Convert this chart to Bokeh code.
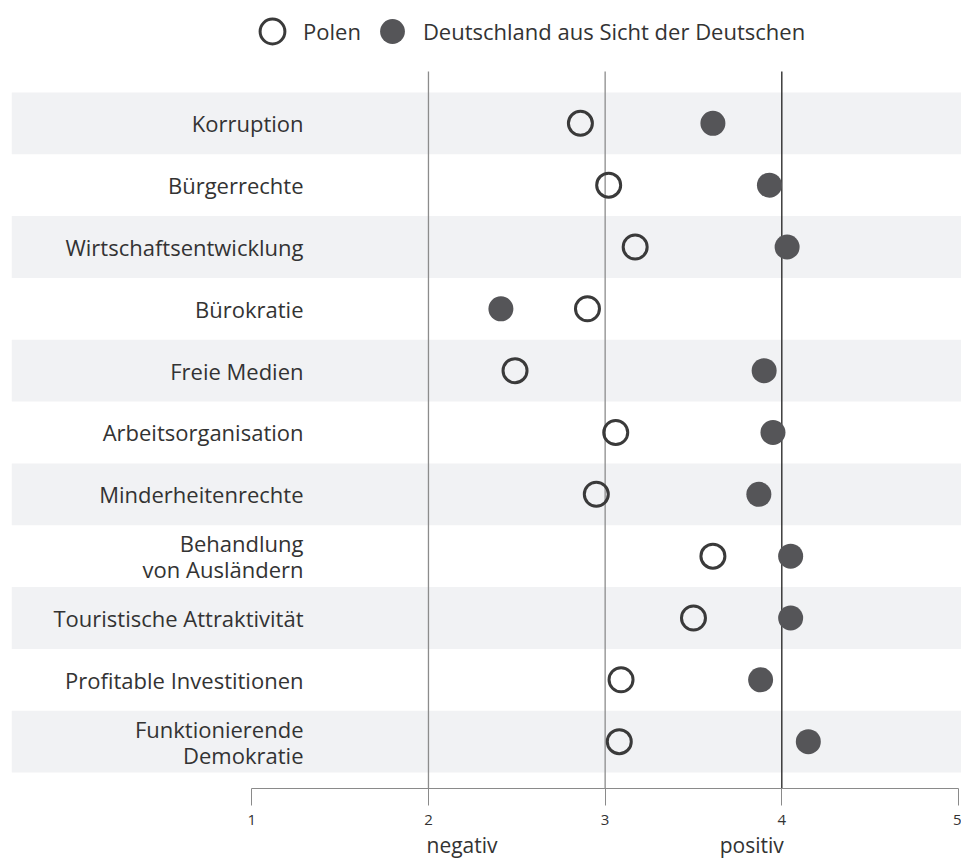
from bokeh.plotting import figure
from bokeh.models import Range1d, LinearAxis, FixedTicker, Legend, LegendItem
from bokeh.core.properties import value
from bokeh.embed import file_html
from bokeh.resources import INLINE

# ---- data ----
categories = ["Korruption", "Bürgerrechte", "Wirtschaftsentwicklung", "Bürokratie",
              "Freie Medien", "Arbeitsorganisation", "Minderheitenrechte",
              "Behandlung\nvon Ausländern", "Touristische Attraktivität",
              "Profitable Investitionen", "Funktionierende\nDemokratie"]
polen = [2.86, 3.02, 3.17, 2.90, 2.49, 3.06, 2.95, 3.61, 3.50, 3.09, 3.08]
deutschland = [3.61, 3.93, 4.03, 2.41, 3.90, 3.95, 3.87, 4.05, 4.05, 3.88, 4.15]
series_names = ["Polen", "Deutschland aus Sicht der Deutschen"]
scale_ticks = [1, 2, 3, 4, 5]
ref_lines = [2, 3, 4]
scale_words = ["negativ", "positiv"]
scale_word_at = [2.19, 3.83]

# ---- layout constants ----
FONT = "Open Sans"
TXT = "#333333"
W, H = 961, 861
LEFT = 11
X0, X1 = -0.360, 5.017
Y0, Y1 = -0.758, 11.986
PXU = (W - LEFT) / (X1 - X0)          # pixels per x unit
PYU = 61.9                            # pixels per row
n = len(categories)
ys = [n - 1 - i for i in range(n)]

p = figure(width=W, height=H, x_range=Range1d(X0, X1), y_range=Range1d(Y0, Y1),
           output_backend="svg", toolbar_location=None,
           x_axis_type=None, y_axis_type=None,
           min_border_left=LEFT, min_border_right=0, min_border_top=0, min_border_bottom=72)
p.outline_line_color = None
p.background_fill_color = "white"
p.border_fill_color = "white"

# alternating bands
band_y = [ys[i] for i in range(0, n, 2)]
p.hbar(y=band_y, left=X0, right=X1, height=1.0, fill_color="#f1f2f4", line_color=None)

# reference lines
top_y = n - 0.5 + 21 / PYU
line_colors = ["#8c8c8c", "#8c8c8c", "#1e1e1e"]
p.segment(x0=ref_lines, x1=ref_lines, y0=[Y0] * 3, y1=[top_y] * 3,
          line_color=line_colors, line_width=1.3)

# points
r_fill = p.scatter(x=deutschland, y=ys, size=25, fill_color="#555558", line_color=None)
r_open = p.scatter(x=polen, y=ys, size=24, fill_color=None, line_color="#3a3a3a", line_width=3)

# category labels
label_x = X0 + (303 - LEFT) / PXU
p.text(x=[label_x] * n, y=ys, text=categories, text_align="right", text_baseline="middle",
       text_font=value(FONT), text_font_size="22px", text_color=TXT, text_line_height=0.87)

# axes
ax = LinearAxis(ticker=FixedTicker(ticks=scale_ticks), bounds=(1, 5))
ax.major_tick_out = 17
ax.major_tick_in = 0
ax.minor_tick_out = 0
ax.minor_tick_in = 0
ax.axis_line_color = "#8a8a8a"
ax.major_tick_line_color = "#8a8a8a"
ax.major_label_text_font = FONT
ax.major_label_text_font_size = "15px"
ax.major_label_text_color = TXT
ax.major_label_standoff = 9
p.add_layout(ax, "below")

ax2 = LinearAxis(ticker=FixedTicker(ticks=scale_word_at),
                 major_label_overrides={v: w for v, w in zip(scale_word_at, scale_words)})
ax2.axis_line_color = None
ax2.major_tick_line_color = None
ax2.major_tick_out = 0
ax2.major_tick_in = 0
ax2.minor_tick_out = 0
ax2.minor_tick_in = 0
ax2.major_label_text_font = FONT
ax2.major_label_text_font_size = "21px"
ax2.major_label_text_color = TXT
ax2.major_label_standoff = 3
p.add_layout(ax2, "below")

# legend
leg = Legend(items=[LegendItem(label=series_names[0], renderers=[r_open]),
                    LegendItem(label=series_names[1], renderers=[r_fill])],
             orientation="horizontal", location=(230, 726),
             glyph_width=62, glyph_height=62, label_standoff=0, spacing=0,
             padding=0, margin=0, border_line_color=None, background_fill_alpha=0,
             label_text_font=FONT, label_text_font_size="22px", label_text_color=TXT)
p.add_layout(leg, "center")

open("out.html", "w").write(file_html(p, INLINE))
